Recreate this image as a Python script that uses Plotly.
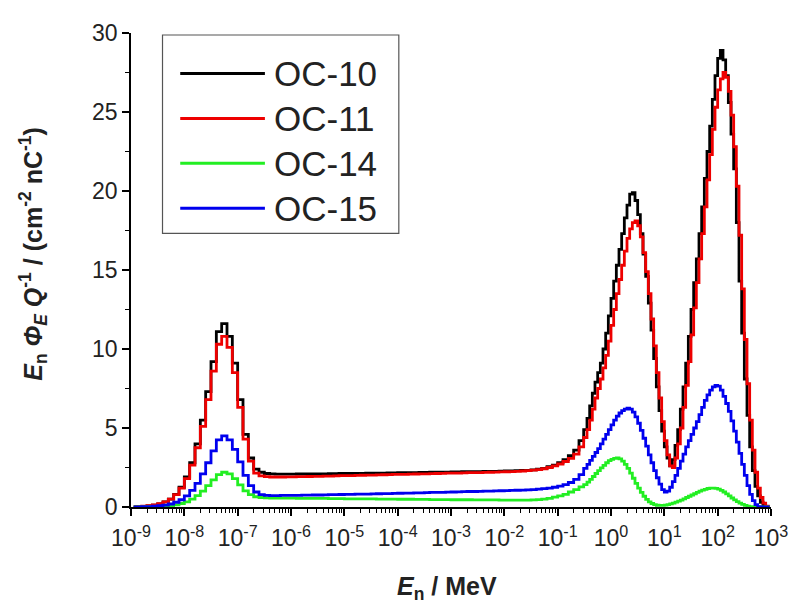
import numpy as np
import plotly.graph_objects as go

# bin centres, log10(E/MeV): 10 bins/decade below 10^-0.5 MeV, 20 bins/decade above
log_centres = np.concatenate([np.round(np.arange(-8.95, -0.5, 0.1), 3),
                              np.round(np.arange(-0.475, 3.0, 0.05), 3)])
energy_MeV = 10.0 ** log_centres

series_names = ["OC-10", "OC-11", "OC-14", "OC-15"]

oc10 = [0.0, 0.02, 0.04, 0.07, 0.12, 0.2, 0.32, 0.5, 0.8, 1.25,
        1.9, 2.8, 4.0, 5.5, 7.3, 9.2, 11.1, 11.6, 10.8, 9.1,
        6.8, 4.6, 3.1, 2.4, 2.2, 2.12, 2.1, 2.08, 2.08, 2.08,
        2.08, 2.09, 2.09, 2.09, 2.1, 2.1, 2.1, 2.11, 2.11, 2.12,
        2.12, 2.12, 2.13, 2.13, 2.14, 2.14, 2.15, 2.15, 2.16, 2.16,
        2.17, 2.17, 2.18, 2.18, 2.19, 2.19, 2.2, 2.2, 2.21, 2.21,
        2.22, 2.22, 2.23, 2.23, 2.24, 2.24, 2.25, 2.25, 2.26, 2.27,
        2.28, 2.29, 2.3, 2.31, 2.32, 2.35, 2.4, 2.45, 2.55, 2.65,
        2.8, 3.0, 3.25, 3.6, 4.2,
        4.9, 5.6, 6.4, 7.2, 7.9, 8.5, 9.1, 10.0, 11.0, 12.1,
        13.2, 14.3, 15.3, 16.3, 17.3, 18.3, 19.1, 19.8, 19.9, 19.4,
        18.5, 17.3, 16.0, 14.6, 12.9, 11.2, 9.4, 7.6, 6.1, 4.8,
        3.8, 3.1, 2.6, 3.0, 3.9, 4.9, 6.2, 7.6, 9.1, 10.8,
        12.5, 14.2, 15.7, 17.3, 19.0, 20.8, 22.5, 24.1, 25.8, 27.3,
        28.4, 28.9, 28.3, 27.3, 25.6, 23.6, 21.4, 18.0, 14.3, 11.0,
        8.1, 5.8, 3.8, 2.3, 1.3, 0.7, 0.3, 0.1, 0.0, 0.0]

oc11 = [0.01, 0.03, 0.05, 0.08, 0.13, 0.21, 0.32, 0.5, 0.78, 1.2,
        1.8, 2.65, 3.75, 5.1, 6.8, 8.6, 10.3, 10.8, 10.1, 8.5,
        6.3, 4.3, 2.9, 2.15, 1.97, 1.92, 1.9, 1.9, 1.9, 1.91,
        1.91, 1.92, 1.92, 1.93, 1.94, 1.94, 1.95, 1.96, 1.97, 1.98,
        1.98, 1.99, 2.0, 2.01, 2.02, 2.02, 2.03, 2.04, 2.05, 2.06,
        2.06, 2.07, 2.08, 2.09, 2.1, 2.1, 2.11, 2.12, 2.13, 2.14,
        2.14, 2.15, 2.16, 2.17, 2.18, 2.18, 2.19, 2.2, 2.21, 2.22,
        2.23, 2.24, 2.26, 2.28, 2.3, 2.33, 2.37, 2.42, 2.5, 2.6,
        2.72, 2.88, 3.08, 3.35, 3.8,
        4.4, 4.9, 5.5, 6.2, 6.9, 7.5, 8.1, 8.8, 9.6, 10.5,
        11.5, 12.5, 13.5, 14.4, 15.3, 16.2, 17.0, 17.6, 18.0, 18.1,
        17.8, 17.1, 16.1, 14.9, 13.5, 11.9, 10.2, 8.5, 6.9, 5.4,
        4.2, 3.3, 2.6, 2.5, 3.1, 4.0, 5.0, 6.3, 7.7, 9.2,
        10.9, 12.6, 14.2, 15.7, 17.3, 19.0, 20.7, 22.3, 23.9, 25.3,
        26.4, 27.1, 27.5, 27.2, 26.3, 24.8, 22.8, 20.3, 17.2, 13.8,
        10.6, 7.8, 5.5, 3.6, 2.2, 1.2, 0.6, 0.25, 0.05, 0.0]

oc14 = [0.0, 0.0, 0.01, 0.015, 0.02, 0.035, 0.055, 0.09, 0.14, 0.22,
        0.33, 0.5, 0.72, 1.0, 1.35, 1.72, 2.05, 2.2, 2.1, 1.8,
        1.4, 1.02, 0.78, 0.65, 0.6, 0.58, 0.57, 0.57, 0.56, 0.56,
        0.56, 0.55, 0.55, 0.55, 0.54, 0.54, 0.54, 0.53, 0.53, 0.53,
        0.52, 0.52, 0.52, 0.51, 0.51, 0.51, 0.5, 0.5, 0.5, 0.5,
        0.49, 0.49, 0.49, 0.48, 0.48, 0.48, 0.47, 0.47, 0.47, 0.47,
        0.46, 0.46, 0.46, 0.46, 0.45, 0.45, 0.45, 0.45, 0.45, 0.44,
        0.44, 0.44, 0.44, 0.44, 0.44, 0.45, 0.47, 0.5, 0.55, 0.62,
        0.7, 0.8, 0.95, 1.1, 1.27,
        1.42, 1.58, 1.75, 1.93, 2.12, 2.3, 2.48, 2.64, 2.8, 2.93,
        3.02, 3.08, 3.1, 3.05, 2.9, 2.7, 2.45, 2.15, 1.82, 1.5,
        1.2, 0.92, 0.68, 0.48, 0.33, 0.22, 0.15, 0.11, 0.1, 0.1,
        0.12, 0.15, 0.2, 0.25, 0.31, 0.37, 0.44, 0.52, 0.6, 0.68,
        0.76, 0.84, 0.92, 1.0, 1.07, 1.12, 1.17, 1.2, 1.2, 1.18,
        1.13, 1.05, 0.95, 0.83, 0.7, 0.57, 0.45, 0.34, 0.24, 0.16,
        0.1, 0.05, 0.02, 0.0, 0.0, 0.0, 0.0, 0.0, 0.0, 0.0]

oc15 = [0.0, 0.01, 0.02, 0.03, 0.05, 0.08, 0.12, 0.19, 0.3, 0.46,
        0.7, 1.05, 1.5, 2.1, 2.8, 3.55, 4.25, 4.5, 4.25, 3.65,
        2.85, 2.0, 1.35, 0.95, 0.78, 0.73, 0.72, 0.72, 0.73, 0.73,
        0.74, 0.74, 0.75, 0.75, 0.76, 0.76, 0.77, 0.78, 0.78, 0.79,
        0.8, 0.8, 0.81, 0.82, 0.82, 0.83, 0.84, 0.85, 0.85, 0.86,
        0.87, 0.88, 0.88, 0.89, 0.9, 0.91, 0.92, 0.92, 0.93, 0.94,
        0.95, 0.96, 0.97, 0.98, 0.98, 0.99, 1.0, 1.01, 1.02, 1.03,
        1.04, 1.05, 1.06, 1.07, 1.08, 1.1, 1.13, 1.16, 1.2, 1.25,
        1.32, 1.42, 1.55, 1.75, 2.05,
        2.45, 2.7, 2.95, 3.2, 3.45, 3.7, 4.0, 4.3, 4.6, 4.9,
        5.2, 5.5, 5.75, 5.95, 6.1, 6.2, 6.25, 6.2, 6.0, 5.7,
        5.3, 4.85, 4.35, 3.85, 3.3, 2.8, 2.3, 1.85, 1.45, 1.1,
        0.95, 1.0, 1.25, 1.6, 2.0, 2.45, 2.9, 3.35, 3.8, 4.2,
        4.6, 5.0, 5.4, 5.85, 6.3, 6.75, 7.1, 7.4, 7.6, 7.7,
        7.65, 7.4, 7.0, 6.55, 6.05, 5.45, 4.8, 4.1, 3.4, 2.7,
        2.0, 1.35, 0.8, 0.4, 0.15, 0.03, 0.0, 0.0, 0.0, 0.0]

series_values = [oc10, oc11, oc14, oc15]
colors = ["#000000", "#ee0000", "#22ee22", "#0000ee"]

x_exponents = list(range(-9, 4))
x_tick_vals = [10.0 ** e for e in x_exponents]
x_tick_text = ["10<sup>%d</sup>" % e for e in x_exponents]
x_minor_vals = [m * 10.0 ** e for e in range(-9, 3) for m in range(2, 10)]

FONT = "Liberation Sans, Arial, sans-serif"

fig = go.Figure()
for name, vals, col in zip(series_names, series_values, colors):
    fig.add_trace(go.Scatter(x=energy_MeV, y=vals, mode="lines", name=name,
                             line=dict(color=col, width=2.8, shape="hvh"),
                             showlegend=False))

# the page body has an 8px margin, so the figure is sized/offset to compensate
fig.update_layout(
    width=792, height=593,
    margin=dict(l=123, r=19, t=19, b=94),
    paper_bgcolor="white", plot_bgcolor="white",
    font=dict(family=FONT, size=23, color="black"),
)
fig.update_xaxes(
    type="log", range=[-9, 3], showgrid=False, zeroline=False,
    showline=True, linecolor="black", linewidth=1.5,
    tickvals=x_tick_vals, ticktext=x_tick_text,
    ticks="outside", ticklen=7, tickwidth=1.5, tickcolor="black",
    ticklabelstandoff=3,
    tickfont=dict(family=FONT, size=23, color="#222"),
    minor=dict(tickvals=x_minor_vals, ticks="outside", ticklen=4,
               tickwidth=1, tickcolor="black"),
)
fig.update_yaxes(
    range=[0, 30], showgrid=False, zeroline=False,
    showline=True, linecolor="black", linewidth=1.5,
    tickvals=[0, 5, 10, 15, 20, 25, 30],
    ticks="outside", ticklen=7, tickwidth=1.5, tickcolor="black",
    tickfont=dict(family=FONT, size=23, color="#222"),
    minor=dict(dtick=2.5, ticks="outside", ticklen=4, tickwidth=1,
               tickcolor="black"),
)

# plot area in window pixels: x 131..781, y 27..507
def px(x):
    return (x - 131) / 650.0

def py(y):
    return (507 - y) / 480.0

fig.add_annotation(
    xref="paper", yref="paper", x=px(32), y=py(251),
    text="<b><i>E</i><sub>n</sub> <i>Φ</i><sub><i>E</i></sub> <i>Q</i><sup>-1</sup> / (cm<sup>-2</sup> nC<sup>-1</sup>)</b>",
    textangle=-90, showarrow=False, font=dict(family=FONT, size=25, color="#222"),
    xanchor="center", yanchor="middle")
fig.add_annotation(
    xref="paper", yref="paper", x=px(452), y=py(589),
    text="<b><i>E</i><sub>n</sub> / MeV</b>", showarrow=False,
    font=dict(family=FONT, size=25, color="#222"),
    xanchor="center", yanchor="middle")

# legend
fig.add_shape(type="rect", xref="paper", yref="paper",
              x0=px(163), x1=px(403), y0=py(230), y1=py(29),
              line=dict(color="#555", width=1.2), fillcolor="white", layer="above")
row_py = [68, 113.5, 159, 204.5]
for name, col, ry in zip(series_names, colors, row_py):
    fig.add_shape(type="line", xref="paper", yref="paper",
                  x0=px(181), x1=px(267), y0=py(ry), y1=py(ry),
                  line=dict(color=col, width=3), layer="above")
    fig.add_annotation(xref="paper", yref="paper", x=px(274), y=py(ry),
                       text=name, showarrow=False, xanchor="left", yanchor="middle",
                       font=dict(family=FONT, size=35, color="#222"))

fig.write_html("out.html")
